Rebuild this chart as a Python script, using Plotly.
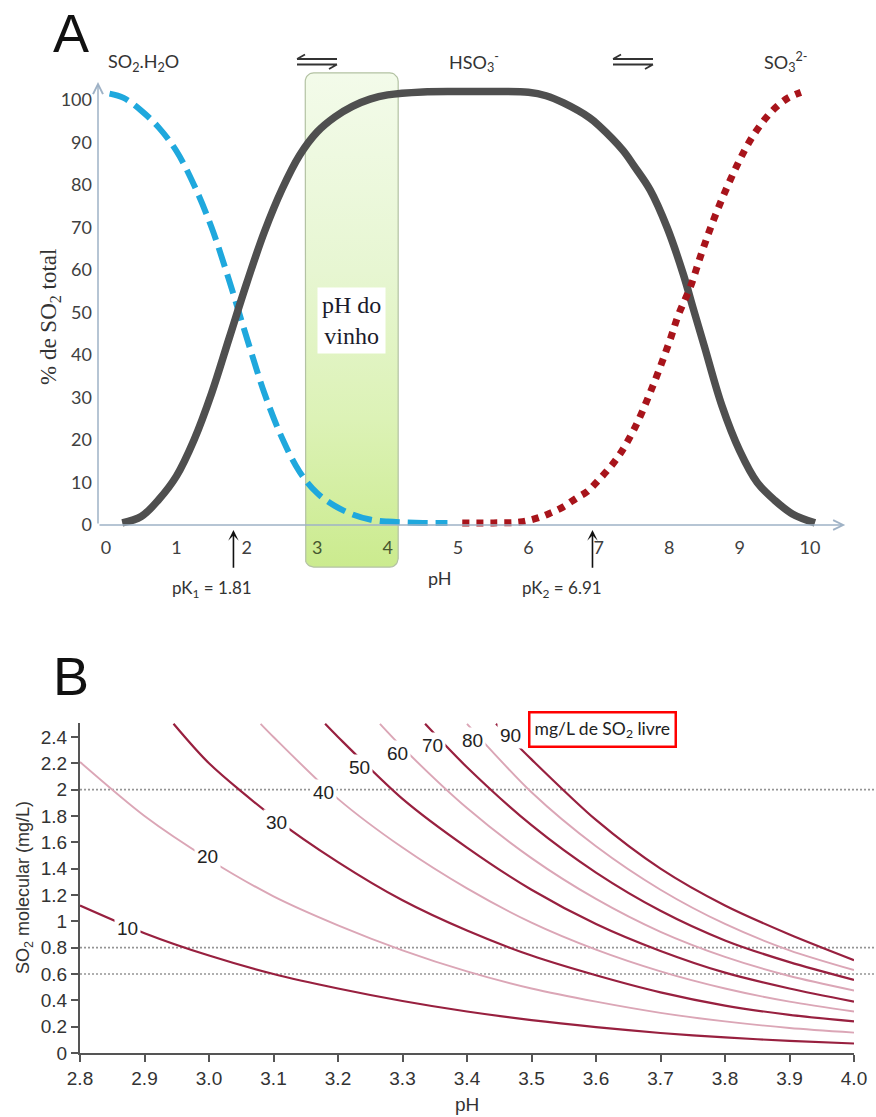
import numpy as np
import plotly.graph_objects as go

W, H = 876, 1117

# ---------------- Panel A data: % of total SO2 in each form vs pH ----------------
pk1, pk2 = 1.81, 6.91
ph_ticks_a = list(range(0, 11))
pct_ticks_a = list(range(0, 101, 10))

ph_molecular = [0.05, 0.25, 0.5, 0.75, 1.0, 1.25, 1.5, 1.75, 2.0, 2.25, 2.5, 2.75,
                3.0, 3.25, 3.5, 3.75, 4.0, 4.25, 4.5, 4.85]
pct_molecular = [101.5, 100.5, 97.5, 93.5, 88.0, 80.0, 70.0, 57.5, 44.0, 31.0, 20.5, 12.5,
                 7.5, 4.5, 2.5, 1.3, 0.8, 0.6, 0.5, 0.5]

ph_bisulfite = [0.23, 0.5, 0.75, 1.0, 1.25, 1.5, 1.75, 2.0, 2.25, 2.5, 2.75, 3.0, 3.25, 3.5,
                3.75, 4.0, 4.5, 5.0, 5.5, 6.0, 6.25, 6.5, 6.87, 7.0, 7.34, 7.5, 7.73, 7.97,
                8.2, 8.34, 8.5, 8.75, 9.0, 9.25, 9.5, 9.75, 10.07]
pct_bisulfite = [0.5, 2.0, 6.0, 11.5, 20.0, 31.0, 44.0, 57.0, 69.0, 79.0, 87.0, 92.5, 96.0, 98.5,
                 100.2, 101.2, 101.9, 102.0, 102.0, 101.8, 101.0, 99.3, 95.8, 94.0, 88.2, 84.5, 78.8, 70.0,
                 59.0, 51.0, 42.0, 28.0, 17.5, 10.0, 5.8, 2.6, 0.5]

ph_sulfite = [5.06, 5.5, 5.88, 6.12, 6.31, 6.49, 6.69, 6.83, 6.97, 7.25, 7.5, 7.75, 8.0, 8.13,
              8.3, 8.45, 8.6, 8.77, 8.96, 9.15, 9.36, 9.53, 9.69, 9.87]
pct_sulfite = [0.5, 0.5, 0.7, 1.6, 2.8, 4.2, 6.4, 7.8, 10.1, 15.5, 22.5, 32.0, 43.0, 49.4,
               56.0, 63.5, 70.5, 77.5, 84.5, 90.5, 95.5, 98.5, 100.5, 101.8]

wine_ph_band = [2.83, 4.15]      # highlighted wine pH band (pH units)
wine_band_pct = [-9.9, 106.4]    # vertical extent of the band (% units)

# ---------------- Panel B data: molecular SO2 (mg/L) vs pH per free SO2 level ----------------
free_so2_levels = [10, 20, 30, 40, 50, 60, 70, 80, 90]
ph_ticks_b = [2.8, 2.9, 3.0, 3.1, 3.2, 3.3, 3.4, 3.5, 3.6, 3.7, 3.8, 3.9, 4.0]
mol_ticks_b = [0, 0.2, 0.4, 0.6, 0.8, 1.0, 1.2, 1.4, 1.6, 1.8, 2.0, 2.2, 2.4]
mol_thresholds = [2.0, 0.8, 0.6]

ph_10 = [2.8, 2.9, 3.0, 3.1, 3.2, 3.3, 3.4, 3.5, 3.6, 3.7, 3.8, 3.9, 4.0]
mol_10 = [1.12, 0.91, 0.74, 0.60, 0.49, 0.395, 0.315, 0.25, 0.197, 0.152, 0.118, 0.092, 0.072]
ph_20 = [2.8, 2.9, 3.0, 3.1, 3.2, 3.3, 3.4, 3.5, 3.6, 3.7, 3.8, 3.9, 4.0]
mol_20 = [2.21, 1.80, 1.47, 1.19, 0.97, 0.78, 0.62, 0.49, 0.39, 0.305, 0.24, 0.19, 0.155]
ph_30 = [2.945, 3.0, 3.1, 3.2, 3.3, 3.4, 3.5, 3.6, 3.7, 3.8, 3.9, 4.0]
mol_30 = [2.50, 2.20, 1.79, 1.45, 1.16, 0.93, 0.74, 0.59, 0.46, 0.36, 0.29, 0.24]
ph_40 = [3.08, 3.1, 3.2, 3.3, 3.4, 3.5, 3.6, 3.7, 3.8, 3.9, 4.0]
mol_40 = [2.50, 2.40, 1.93, 1.56, 1.25, 0.99, 0.785, 0.62, 0.49, 0.39, 0.315]
ph_50 = [3.18, 3.2, 3.3, 3.4, 3.5, 3.6, 3.7, 3.8, 3.9, 4.0]
mol_50 = [2.50, 2.40, 1.93, 1.56, 1.24, 0.98, 0.775, 0.61, 0.49, 0.39]
ph_60 = [3.265, 3.3, 3.4, 3.5, 3.6, 3.7, 3.8, 3.9, 4.0]
mol_60 = [2.50, 2.32, 1.86, 1.48, 1.17, 0.92, 0.73, 0.585, 0.475]
ph_70 = [3.335, 3.4, 3.5, 3.6, 3.7, 3.8, 3.9, 4.0]
mol_70 = [2.50, 2.17, 1.73, 1.37, 1.08, 0.855, 0.69, 0.555]
ph_80 = [3.40, 3.5, 3.6, 3.7, 3.8, 3.9, 4.0]
mol_80 = [2.50, 1.98, 1.57, 1.24, 0.98, 0.78, 0.63]
ph_90 = [3.445, 3.5, 3.6, 3.7, 3.8, 3.9, 4.0]
mol_90 = [2.50, 2.23, 1.77, 1.40, 1.12, 0.90, 0.705]

curves_b = [(ph_10, mol_10), (ph_20, mol_20), (ph_30, mol_30), (ph_40, mol_40), (ph_50, mol_50),
            (ph_60, mol_60), (ph_70, mol_70), (ph_80, mol_80), (ph_90, mol_90)]


def px(x):
    return x / W


def py(y):
    return 1 - y / H


def rounded_box(x0, x1, y0, y1, rx, ry, n=10):
    xs, ys = [], []
    corners = [(x1 - rx, y1 - ry, 0, 90), (x0 + rx, y1 - ry, 90, 180),
               (x0 + rx, y0 + ry, 180, 270), (x1 - rx, y0 + ry, 270, 360)]
    for cx, cy, a0, a1 in corners:
        t = np.radians(np.linspace(a0, a1, n))
        xs += list(cx + rx * np.cos(t))
        ys += list(cy + ry * np.sin(t))
    xs.append(xs[0])
    ys.append(ys[0])
    return xs, ys


fig = go.Figure()

# ---- Panel A ----
bx, by = rounded_box(wine_ph_band[0], wine_ph_band[1], wine_band_pct[0], wine_band_pct[1], 0.12, 2.0)
fig.add_trace(go.Scatter(
    x=bx, y=by, mode="lines", fill="toself",
    line=dict(color="#b3c2a3", width=1.2),
    fillgradient=dict(type="vertical",
                      colorscale=[[0, "#cbeb8e"], [0.3, "#dcf2b6"], [0.6, "#e7f6d2"], [1, "#f3fbea"]]),
    hoverinfo="skip", showlegend=False, xaxis="x", yaxis="y"))

fig.add_trace(go.Scatter(
    x=ph_molecular, y=pct_molecular, mode="lines",
    line=dict(color="#1fa8dd", width=6, dash="20px,8px", shape="spline", smoothing=1.0),
    showlegend=False, xaxis="x", yaxis="y"))
fig.add_trace(go.Scatter(
    x=ph_bisulfite, y=pct_bisulfite, mode="lines",
    line=dict(color="#4f4f4f", width=7.5, shape="spline", smoothing=1.0),
    showlegend=False, xaxis="x", yaxis="y"))
fig.add_trace(go.Scatter(
    x=ph_sulfite, y=pct_sulfite, mode="lines",
    line=dict(color="#a8141b", width=7, dash="7px,7px", shape="spline", smoothing=1.0),
    showlegend=False, xaxis="x", yaxis="y"))

# ---- Panel B ----
for i, (xs, ys) in enumerate(curves_b):
    dark = i % 2 == 0
    fig.add_trace(go.Scatter(
        x=xs, y=ys, mode="lines",
        line=dict(color="#98203f" if dark else "#dba6b6", width=2.2 if dark else 1.9,
                  shape="spline", smoothing=0.8),
        showlegend=False, xaxis="x2", yaxis="y2"))

font_a = "Lato, 'Open Sans', sans-serif"
font_b = "'Liberation Sans', Arial, sans-serif"

xtext_a = []
for v in ph_ticks_a:
    if wine_ph_band[0] <= v <= wine_ph_band[1]:
        xtext_a.append(f'<span style="color:#47572f">{v}</span>')
    else:
        xtext_a.append(str(v))

fig.update_layout(
    width=W, height=H, margin=dict(l=0, r=0, t=0, b=0, autoexpand=False),
    paper_bgcolor="white", plot_bgcolor="rgba(0,0,0,0)",
    font=dict(family=font_b, color="#333"),
    xaxis=dict(domain=[px(98), px(850)], range=[-0.114, 10.568], anchor="free", position=py(525),
               tickmode="array", tickvals=ph_ticks_a, ticktext=xtext_a,
               showline=False, showgrid=False, zeroline=False, ticks="",
               tickfont=dict(family=font_a, size=18, color="#404040"), ticklabelstandoff=10),
    yaxis=dict(domain=[py(570), py(70)], range=[(525 - 570) / 4.25, (525 - 70) / 4.25], anchor="x",
               tickmode="array", tickvals=pct_ticks_a,
               showline=False, showgrid=False, zeroline=False, ticks="",
               tickfont=dict(family=font_a, size=18, color="#404040"), ticklabelstandoff=5),
    xaxis2=dict(domain=[px(80), px(854)], range=[2.8, 4.0], anchor="y2",
                tickmode="array", tickvals=ph_ticks_b, ticktext=[f"{v:.1f}" for v in ph_ticks_b],
                showline=True, linecolor="#555", linewidth=2, showgrid=False, zeroline=False,
                ticks="outside", ticklen=7, tickwidth=2, tickcolor="#555",
                tickfont=dict(family=font_b, size=19, color="#333")),
    yaxis2=dict(domain=[py(1053), py(722.5)], range=[0, 2.51], anchor="x2",
                tickmode="array", tickvals=mol_ticks_b, ticktext=[f"{v:g}" for v in mol_ticks_b],
                showline=True, linecolor="#555", linewidth=2, showgrid=False, zeroline=False,
                ticks="outside", ticklen=7, tickwidth=2, tickcolor="#555",
                tickfont=dict(family=font_b, size=19, color="#333")),
)

shapes = []
# threshold lines of molecular SO2
for v in mol_thresholds:
    shapes.append(dict(type="line", xref="paper", yref="y2", x0=px(80), x1=1.0, y0=v, y1=v,
                       layer="below", line=dict(color="#959595", width=1.6, dash="2px,2px")))


# equilibrium harpoons between species labels
def harpoons(xl, xr, yt, yb):
    p = (f"M{px(xl)},{py(yt)} L{px(xr)},{py(yt)} M{px(xl)},{py(yt)} L{px(xl + 8)},{py(yt - 4.5)} "
         f"M{px(xl)},{py(yb)} L{px(xr)},{py(yb)} M{px(xr)},{py(yb)} L{px(xr - 8)},{py(yb + 4.5)}")
    return dict(type="path", xref="paper", yref="paper", path=p, line=dict(color="#333", width=1.8))


shapes.append(harpoons(297, 337, 59, 64.5))
shapes.append(harpoons(613, 653, 59, 64.5))
fig.update_layout(shapes=shapes)


def label(x, y, text, font, **kw):
    d = dict(xref="paper", yref="paper", x=px(x), y=py(y), showarrow=False, text=text,
             xanchor="center", yanchor="middle", font=font)
    d.update(kw)
    return d


ann = []
# axis arrows of panel A
ann.append(dict(xref="x", yref="y", axref="x", ayref="y", x=-0.114, y=(525 - 82) / 4.25, ax=-0.114, ay=0,
                text="", showarrow=True, arrowhead=5, arrowsize=1.3, arrowwidth=1.5, arrowcolor="#9fb2c6"))
ann.append(dict(xref="x", yref="y", axref="x", ayref="y", x=10.5, y=0, ax=-0.114, ay=0,
                text="", showarrow=True, arrowhead=5, arrowsize=1.3, arrowwidth=1.5, arrowcolor="#9fb2c6"))
# pK markers
for pk, sub, cx in [(pk1, 1, 212), (pk2, 2, 562)]:
    ann.append(dict(xref="x", yref="y", axref="x", ayref="y", x=pk, y=-1.2, ax=pk, ay=-10.4,
                    text="", showarrow=True, arrowhead=3, arrowsize=1.1, arrowwidth=1.6, arrowcolor="#111"))
    ann.append(label(cx, 589, f"pK<sub>{sub}</sub> = {pk}", dict(family=font_a, size=17, color="#333")))
ann.append(label(440, 578, "pH", dict(family=font_a, size=18, color="#333")))
ann.append(label(50, 317, "% de SO<sub>2</sub> total",
                 dict(family="'Liberation Serif', 'Times New Roman', serif", size=23, color="#333"),
                 textangle=-90))
# species labels
for txt, cx in [("SO<sub>2</sub>.H<sub>2</sub>O", 143), ("HSO<sub>3</sub><sup>-</sup>", 474),
                ("SO<sub>3</sub><sup>2-</sup>", 785)]:
    ann.append(label(cx, 62, txt, dict(family=font_a, size=18, color="#333")))
# wine pH band label
ann.append(dict(xref="x", yref="paper", x=sum(wine_ph_band) / 2, y=py(321), showarrow=False,
                xanchor="center", yanchor="middle",
                text="pH do<br>vinho", bgcolor="white", borderpad=4,
                font=dict(family="'Liberation Serif', 'Times New Roman', serif", size=24, color="#1b1b2b")))
# panel letters
ann.append(label(71, 33, "A", dict(family=font_b, size=54, color="#111")))
ann.append(label(71, 676, "B", dict(family=font_b, size=54, color="#111")))

# panel B labels
label_pos = [(2.874, 0.949), (2.997, 1.489), (3.105, 1.754), (3.177, 1.975), (3.234, 2.172),
             (3.293, 2.278), (3.347, 2.339), (3.409, 2.377), (3.467, 2.415)]
for lvl, (lx, ly) in zip(free_so2_levels, label_pos):
    ann.append(dict(xref="x2", yref="y2", x=lx, y=ly, showarrow=False, text=str(lvl),
                    xanchor="center", yanchor="middle",
                    bgcolor="white", borderpad=2, font=dict(family=font_b, size=19, color="#222")))
ann.append(label(602, 729.5, "mg/L de SO<sub>2</sub> livre", dict(family=font_a, size=17.5, color="#222"),
                 bgcolor="white", bordercolor="#ff0000", borderwidth=2.5, borderpad=4))
ann.append(label(467, 1104, "pH", dict(family=font_b, size=19, color="#333")))
ann.append(label(24, 888, "SO<sub>2</sub> molecular (mg/L)", dict(family=font_b, size=18, color="#333"),
                 textangle=-90))
fig.update_layout(annotations=ann)

fig.write_html("out.html")
